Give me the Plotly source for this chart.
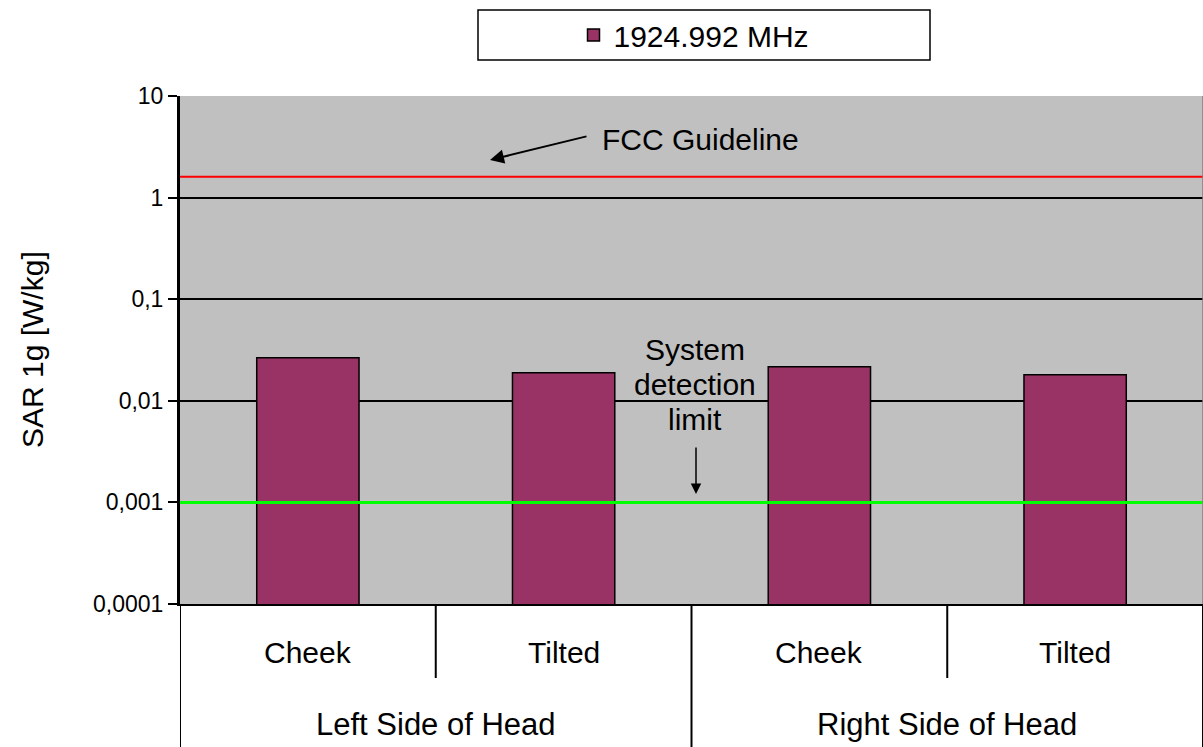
import plotly.graph_objects as go

# ---- data ----
positions = ["Cheek", "Tilted", "Cheek", "Tilted"]
sides = ["Left Side of Head", "Right Side of Head"]
series_name = "1924.992 MHz"
sar_values = [0.0265, 0.0189, 0.0216, 0.0180]
fcc_limit = 1.6
detection_limit = 0.001
y_tickvals = [0.0001, 0.001, 0.01, 0.1, 1, 10]
y_ticktext = ["0,0001", "0,001", "0,01", "0,1", "1", "10"]

W, H = 1203, 747
PL, PT, PR, PB = 180, 96, 1203, 604  # plot area in page pixels
PW, PH = PR - PL, PB - PT
FONT = "Liberation Sans, Arial, sans-serif"


def px(xp):
    return (xp - PL) / PW


def py(yp):
    return (PB - yp) / PH


xs = list(range(len(sar_values)))

fig = go.Figure()
fig.add_trace(go.Bar(
    x=xs, y=sar_values, width=0.4, name=series_name,
    marker=dict(color="#993366", line=dict(color="black", width=1.5)),
))
fig.add_trace(go.Scatter(
    x=[-0.5, len(xs) - 0.5], y=[fcc_limit, fcc_limit], mode="lines",
    line=dict(color="#FF0000", width=2), showlegend=False, hoverinfo="skip",
))
fig.add_trace(go.Scatter(
    x=[-0.5, len(xs) - 0.5], y=[detection_limit, detection_limit], mode="lines",
    line=dict(color="#00FF00", width=3), showlegend=False, hoverinfo="skip",
))

shapes = []
bottom = py(747)
mid = py(678)
for i in range(len(xs) + 1):
    xv = i - 0.5
    y1 = bottom if i % 2 == 0 else mid
    shapes.append(dict(type="line", xref="x", yref="paper", x0=xv, x1=xv,
                       y0=0, y1=y1, line=dict(color="black", width=2)))
shapes.append(dict(type="line", xref="paper", yref="paper", x0=1, x1=1, y0=0, y1=1,
                   line=dict(color="#808080", width=1.5)))
shapes.append(dict(type="rect", xref="paper", yref="paper",
                   x0=px(478), x1=px(930), y0=py(60), y1=py(10),
                   line=dict(color="black", width=1.5), fillcolor="rgba(0,0,0,0)"))

TXT = dict(showarrow=False, xanchor="center", yanchor="middle")
ann = []
for i, lab in enumerate(positions):
    ann.append(dict(x=i, y=py(652), xref="x", yref="paper", text=lab,
                    font=dict(size=30, color="black", family=FONT), **TXT))
for j, lab in enumerate(sides):
    ann.append(dict(x=2 * j + 0.5, y=py(724), xref="x", yref="paper", text=lab,
                    font=dict(size=31, color="black", family=FONT), **TXT))
ann.append(dict(x=px(32), y=py(350), xref="paper", yref="paper", text="SAR 1g [W/kg]",
                textangle=-90, font=dict(size=30, color="black", family=FONT), **TXT))
ann.append(dict(x=px(700), y=py(140), xref="paper", yref="paper", text="FCC Guideline",
                font=dict(size=30, color="black", family=FONT), **TXT))
ann.append(dict(x=px(490), y=py(160), xref="paper", yref="paper", text="", showarrow=True,
                ax=98, ay=-24, arrowhead=2, arrowsize=1.4, arrowwidth=2, arrowcolor="black"))
for txt, yy in (("System", 349), ("detection", 384), ("limit", 419)):
    ann.append(dict(x=px(695), y=py(yy), xref="paper", yref="paper", text=txt,
                    font=dict(size=30, color="black", family=FONT), **TXT))
ann.append(dict(x=px(696), y=py(494), xref="paper", yref="paper", text="", showarrow=True,
                ax=0, ay=-48, arrowhead=2, arrowsize=1.4, arrowwidth=1.5, arrowcolor="black"))

fig.update_layout(
    width=W, height=H,
    margin=dict(l=PL, r=W - PR, t=PT, b=H - PB, pad=0),
    paper_bgcolor="white", plot_bgcolor="#C0C0C0",
    font=dict(family=FONT, color="black"),
    showlegend=True,
    legend=dict(x=px(694), y=py(35), xanchor="center", yanchor="middle",
                orientation="h", bgcolor="rgba(0,0,0,0)",
                font=dict(size=30, color="black", family=FONT)),
    xaxis=dict(range=[-0.5, len(xs) - 0.5], showticklabels=False, ticks="",
               showgrid=False, zeroline=False, showline=True, linecolor="black", linewidth=2),
    yaxis=dict(type="log", range=[-4, 1], tickvals=y_tickvals, ticktext=y_ticktext,
               ticks="outside", ticklen=9, tickwidth=1.5, tickcolor="black",
               showline=True, linecolor="black", linewidth=3,
               showgrid=True, gridcolor="black", gridwidth=1.5,
               tickfont=dict(size=23, color="black", family=FONT)),
    shapes=shapes, annotations=ann, bargap=0.6,
)

fig.write_html(
    "out.html",
    config={"displayModeBar": False},
    post_script="document.body.style.margin='0';document.body.style.overflow='hidden';",
)
